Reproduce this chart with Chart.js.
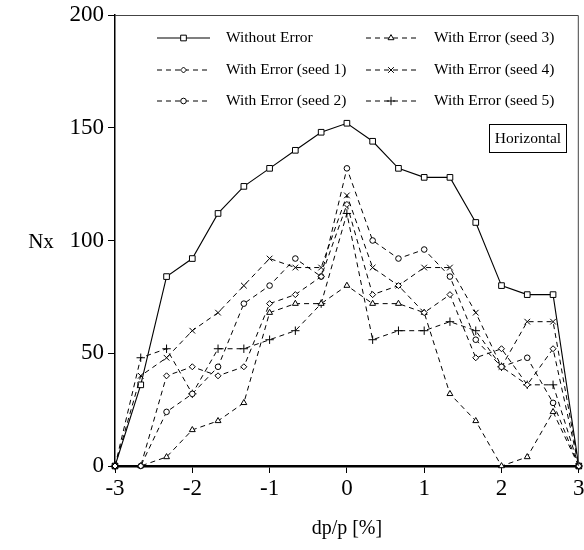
<!DOCTYPE html>
<html>
<head>
<meta charset="utf-8">
<script src="https://cdn.jsdelivr.net/npm/chart.js@4.4.1/dist/chart.umd.min.js"></script>
<style>
  html, body { margin: 0; padding: 0; background: #fff; }
  #wrap { width: 584px; height: 550px; }
</style>
</head>
<body>
<div id="wrap"><canvas id="chart" width="584" height="550"></canvas></div>
<script>
// dp/p [%] positions
var dpp = [-3, -2.667, -2.333, -2, -1.667, -1.333, -1, -0.667, -0.333, 0,
           0.333, 0.667, 1, 1.333, 1.667, 2, 2.333, 2.667, 3];

var noError = [0, 36, 84, 92, 112, 124, 132, 140, 148, 152, 144, 132, 128, 128, 108, 80, 76, 76, 0];
var seed1 = [0, 0, 40, 44, 40, 44, 72, 76, 84, 116, 76, 80, 68, 76, 48, 52, 36, 52, 0];
var seed2 = [0, 0, 24, 32, 44, 72, 80, 92, 84, 132, 100, 92, 96, 84, 56, 44, 48, 28, 0];
var seed3 = [0, 0, 4, 16, 20, 28, 68, 72, 72, 80, 72, 72, 68, 32, 20, 0, 4, 24, 0];
var seed4 = [0, 40, 48, 60, 68, 80, 92, 88, 88, 120, 88, 80, 88, 88, 68, 44, 64, 64, 0];
var seed5 = [0, 48, 52, 32, 52, 52, 56, 60, 72, 112, 56, 60, 60, 64, 60, 44, 36, 36, 0];

var xTicks = [-3, -2, -1, 0, 1, 2, 3];
var yTicks = [0, 50, 100, 150, 200];

var seriesNames = ["Without Error", "With Error (seed 1)", "With Error (seed 2)",
                   "With Error (seed 3)", "With Error (seed 4)", "With Error (seed 5)"];
var boxLabel = "Horizontal";
var yTitle = "Nx";

var serif = "'Liberation Serif', 'DejaVu Serif', serif";

function pts(ys) {
  return ys.map(function (y, i) { return { x: dpp[i], y: y }; });
}

function makeSet(name, ys, style, radius, dashed) {
  return {
    label: name,
    data: pts(ys),
    borderColor: "#000",
    borderWidth: dashed ? 1 : 1.1,
    borderDash: dashed ? [5, 4] : [],
    pointStyle: style,
    pointRadius: radius,
    pointBorderWidth: 1,
    pointBackgroundColor: "#fff",
    pointBorderColor: "#000",
    tension: 0,
    fill: false,
    clip: false
  };
}

var datasets = [
  makeSet(seriesNames[1], seed1, "rectRot", 3, true),
  makeSet(seriesNames[2], seed2, "circle", 2.8, true),
  makeSet(seriesNames[3], seed3, "triangle", 3.4, true),
  makeSet(seriesNames[4], seed4, "crossRot", 4, true),
  makeSet(seriesNames[5], seed5, "cross", 4.2, true),
  makeSet(seriesNames[0], noError, "rect", 4, false)
];

// legend slots: [lineStart, lineEnd, textX, y]
var legendOrder = [5, 0, 1, 2, 3, 4];
var legendSlots = [
  [157, 210, 226, 38], [157, 210, 226, 70], [157, 210, 226, 101],
  [366, 416, 434, 38], [366, 416, 434, 70], [366, 416, 434, 101]
];

var decor = {
  id: "decor",
  afterDraw: function (chart) {
    var ctx = chart.ctx;
    var a = chart.chartArea;
    ctx.save();
    // frame top and right
    ctx.strokeStyle = "#444";
    ctx.lineWidth = 1;
    ctx.beginPath();
    ctx.moveTo(a.left, a.top + 0.5);
    ctx.lineTo(a.right - 0.5, a.top + 0.5);
    ctx.lineTo(a.right - 0.5, a.bottom);
    ctx.stroke();

    // legend
    ctx.font = "15.5px " + serif;
    ctx.textBaseline = "middle";
    ctx.fillStyle = "#000";
    for (var i = 0; i < legendOrder.length; i++) {
      var ds = chart.data.datasets[legendOrder[i]];
      var s = legendSlots[i];
      ctx.strokeStyle = "#000";
      ctx.lineWidth = ds.borderWidth;
      ctx.setLineDash(ds.borderDash);
      ctx.beginPath();
      ctx.moveTo(s[0], s[3]);
      ctx.lineTo(s[1], s[3]);
      ctx.stroke();
      ctx.setLineDash([]);
      ctx.fillStyle = "#fff";
      ctx.lineWidth = 1;
      Chart.helpers.drawPoint(ctx, { pointStyle: ds.pointStyle, radius: ds.pointRadius, borderWidth: 1, rotation: 0 },
        (s[0] + s[1]) / 2, s[3]);
      ctx.fillStyle = "#000";
      ctx.textAlign = "left";
      ctx.fillText(ds.label, s[2], s[3]);
    }

    // Horizontal box
    ctx.strokeStyle = "#000";
    ctx.lineWidth = 1;
    ctx.strokeRect(489.5, 124.5, 77, 28);
    ctx.textAlign = "center";
    ctx.fillText(boxLabel, 528, 139);

    // upright y title
    ctx.font = "21px " + serif;
    ctx.fillText(yTitle, 41, 242);
    ctx.restore();
  }
};

var ctx = document.getElementById("chart").getContext("2d");
new Chart(ctx, {
  type: "line",
  data: { datasets: datasets },
  options: {
    responsive: false,
    animation: false,
    layout: { padding: { top: 15, right: 2, left: 0, bottom: 0 } },
    plugins: { legend: { display: false }, tooltip: { enabled: false } },
    scales: {
      x: {
        type: "linear",
        min: -3, max: 3,
        afterBuildTicks: function (s) { s.ticks = xTicks.map(function (v) { return { value: v }; }); },
        afterFit: function (s) { s.height = 84; s.paddingLeft = 0; s.paddingRight = 0; },
        grid: { drawOnChartArea: false, drawTicks: true, tickLength: 7, color: "#000", lineWidth: 1 },
        border: { display: true, color: "#000", width: 2.5 },
        ticks: { color: "#000", font: { family: serif, size: 23 }, padding: 2, maxRotation: 0 },
        title: { display: true, text: "dp/p [%]", color: "#000", font: { family: serif, size: 20 }, padding: { top: 0, bottom: 9 } }
      },
      y: {
        type: "linear",
        min: 0, max: 200,
        afterBuildTicks: function (s) { s.ticks = yTicks.map(function (v) { return { value: v }; }); },
        afterFit: function (s) { s.width = 115; s.paddingTop = 0; s.paddingBottom = 0; },
        grid: { drawOnChartArea: false, drawTicks: true, tickLength: 7, color: "#000", lineWidth: 1 },
        border: { display: true, color: "#000", width: 1.5 },
        ticks: { color: "#000", font: { family: serif, size: 23 }, padding: 4 },
        title: { display: false }
      }
    }
  },
  plugins: [decor]
});
</script>
</body>
</html>
